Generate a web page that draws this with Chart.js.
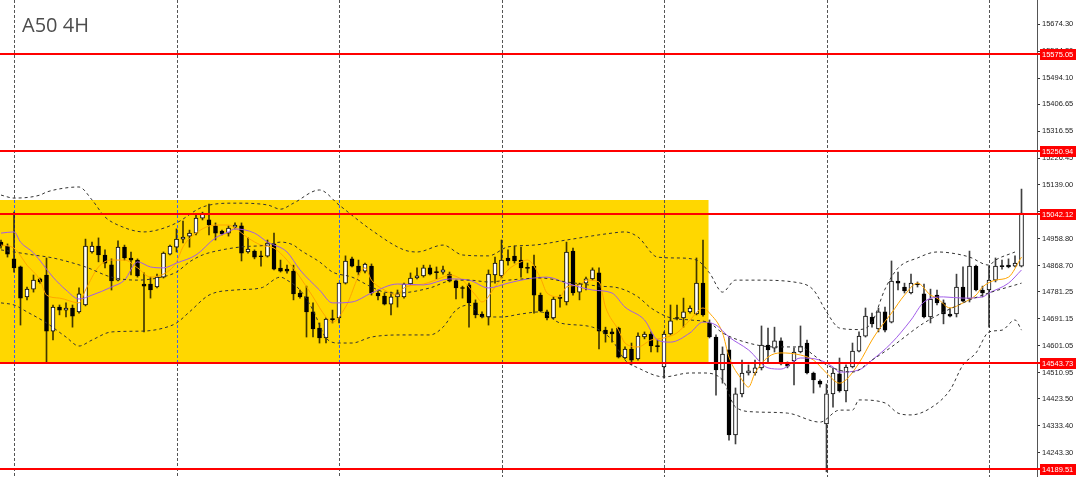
<!DOCTYPE html>
<html><head><meta charset="utf-8">
<script src="https://cdn.jsdelivr.net/npm/chart.js@4"></script>
<style>html,body{margin:0;padding:0;background:#fff;overflow:hidden}</style>
</head><body>
<canvas id="c" width="1080" height="477"></canvas>
<script>
// ---- data (bar index 0..157, 4H bars) ----
const opens=[14947,14934,14891,14864,14764,14790,14824,14837,14650,14730,
14720,14727,14714,14737,14914,14934,14904,14871,14820,14930,
14894,14887,14807,14807,14797,14830,14907,14930,14957,14967,
14977,15027,15021,15001,14984,14977,14997,15001,14914,14917,
14900,14900,14941,14860,14857,14850,14777,14764,14714,14660,
14627,14690,14694,14810,14891,14867,14850,14867,14777,14767,
14740,14764,14764,14807,14827,14834,14861,14847,14847,14840,
14817,14794,14804,14744,14707,14697,14837,14834,14894,14900,
14887,14861,14867,14770,14714,14694,14760,14747,14917,14780,
14810,14824,14844,14653,14647,14660,14560,14590,14557,14630,
14640,14600,14530,14640,14694,14694,14714,14707,14810,14677,
14630,14520,14587,14303,14440,14510,14510,14527,14603,14593,
14617,14540,14550,14580,14610,14510,14483,14340,14440,14507,
14450,14530,14583,14633,14697,14657,14714,14680,14817,14797,
14777,14807,14774,14697,14770,14744,14707,14707,14797,14757,
14867,14787,14787,14820,14867,14870,14867,14867];
const highs=[14954,14941,15047,14867,14797,14837,14827,14894,14737,14737,
14744,14737,14794,14957,14947,14961,14921,14891,14951,14937,
14914,14891,14844,14830,14840,14914,14937,14991,15017,14987,
15037,15047,15074,15011,14987,15001,15011,15011,14961,14921,
14917,14954,14977,14887,14870,14870,14787,14800,14744,14677,
14694,14720,14810,14901,14897,14887,14877,14874,14787,14777,
14780,14787,14810,14844,14861,14870,14870,14864,14867,14847,
14820,14800,14810,14754,14714,14854,14897,14954,14921,14934,
14930,14877,14904,14777,14720,14764,14770,14947,14927,14810,
14830,14861,14861,14663,14657,14663,14597,14610,14644,14647,
14647,14620,14647,14737,14737,14760,14734,14894,14954,14687,
14637,14597,14630,14460,14553,14537,14553,14667,14660,14663,
14627,14547,14594,14667,14620,14513,14487,14473,14527,14560,
14537,14610,14647,14727,14710,14727,14730,14884,14847,14810,
14840,14814,14807,14790,14787,14754,14727,14840,14864,14917,
14870,14800,14867,14894,14887,14891,14901,15124];
const lows=[14927,14897,14847,14670,14754,14780,14810,14543,14620,14704,
14697,14663,14710,14734,14910,14881,14861,14787,14817,14887,
14837,14830,14647,14760,14794,14827,14904,14914,14944,14930,
14971,15021,14971,14954,14971,14967,14991,14884,14910,14891,
14867,14897,14854,14847,14843,14754,14760,14630,14630,14610,
14610,14677,14677,14807,14864,14837,14844,14770,14754,14737,
14704,14730,14760,14804,14824,14830,14837,14824,14840,14814,
14757,14760,14663,14694,14694,14670,14810,14827,14870,14877,
14830,14844,14710,14714,14687,14690,14730,14737,14770,14754,
14787,14820,14590,14613,14613,14560,14557,14537,14553,14624,
14580,14580,14493,14637,14687,14663,14710,14704,14700,14627,
14436,14476,14286,14273,14430,14503,14503,14520,14547,14580,
14537,14527,14470,14577,14507,14443,14463,14180,14396,14446,
14413,14527,14580,14630,14663,14647,14647,14677,14787,14777,
14774,14797,14694,14677,14737,14674,14697,14697,14747,14747,
14784,14764,14663,14814,14857,14861,14864,14864];
const closes=[14934,14907,14861,14760,14790,14820,14814,14650,14730,14720,
14727,14700,14774,14934,14934,14904,14877,14817,14930,14894,
14887,14834,14800,14787,14830,14910,14934,14957,14964,14977,
15027,15041,15004,14977,14974,14994,15004,14910,14924,14897,
14898,14944,14857,14850,14850,14774,14764,14714,14657,14627,
14690,14688,14810,14884,14867,14847,14874,14777,14767,14740,
14764,14774,14807,14827,14834,14861,14840,14845,14854,14817,
14794,14792,14744,14704,14697,14840,14877,14887,14884,14884,
14861,14859,14770,14717,14694,14757,14759,14914,14777,14807,
14824,14854,14650,14640,14640,14563,14590,14553,14633,14640,
14600,14598,14640,14684,14692,14714,14727,14810,14704,14630,
14520,14573,14303,14440,14510,14517,14527,14603,14587,14617,
14540,14533,14580,14600,14510,14487,14473,14440,14510,14450,
14530,14583,14633,14700,14674,14714,14653,14817,14810,14784,
14810,14805,14697,14757,14744,14707,14700,14797,14750,14867,
14787,14777,14820,14867,14865,14864,14877,15044];

// Bollinger bands and moving averages, read at [bar index, price]
const bbUpper=[[0,15104],[2,15094],[6,15104],[7,15114],[10,15128],[12,15131],[14,15088],[16,15031],[18,15004],[22,14981],[24,14987],[27,15011],[31,15064],[36,15077],[41,15071],[43,15057],[45,15077],[49,15121],[52,15071],[57,14987],[62,14921],[64,14914],[68,14937],[71,14904],[75,14901],[78,14931],[82,14937],[87,14954],[94,14977],[96,14981],[98,14964],[101,14897],[104,14894],[107,14887],[109,14844],[111,14780],[113,14820],[116,14820],[123,14810],[125,14787],[127,14714],[129,14660],[132,14655],[134,14680],[136,14790],[138,14860],[141,14894],[144,14914],[146,14911],[149,14897],[152,14870],[153,14887],[156,14914]];
const bbMiddle=[[0,14921],[2,14914],[5,14904],[8,14894],[13,14864],[17,14830],[21,14820],[24,14827],[27,14847],[29,14881],[31,14904],[34,14921],[37,14931],[41,14937],[43,14947],[45,14937],[46,14921],[49,14881],[51,14847],[54,14830],[57,14797],[59,14780],[61,14777],[66,14794],[69,14817],[72,14820],[75,14814],[78,14820],[83,14827],[87,14814],[92,14800],[95,14794],[98,14764],[100,14727],[103,14694],[106,14687],[109,14677],[111,14644],[115,14610],[119,14597],[123,14597],[125,14570],[127,14537],[131,14513],[134,14553],[137,14597],[142,14677],[148,14744],[151,14770],[157,14810]];
const bbLower=[[0,14744],[2,14737],[4,14714],[7,14677],[10,14630],[12,14600],[14,14620],[17,14647],[22,14650],[25,14660],[27,14677],[29,14714],[32,14770],[36,14787],[40,14794],[43,14830],[44,14820],[46,14787],[48,14720],[50,14627],[52,14610],[54,14610],[57,14630],[62,14637],[66,14637],[68,14663],[70,14720],[72,14737],[74,14697],[77,14697],[80,14707],[83,14714],[86,14677],[91,14663],[94,14620],[96,14553],[98,14527],[102,14497],[106,14510],[108,14510],[111,14487],[113,14396],[116,14380],[121,14376],[126,14346],[129,14386],[131,14386],[132,14420],[136,14410],[138,14376],[140,14370],[143,14393],[146,14453],[148,14537],[150,14577],[152,14647],[154,14653],[156,14687],[157,14653]];
const maSlow=[[0,14977],[2,14981],[3,14947],[5,14911],[8,14830],[10,14787],[12,14757],[14,14770],[17,14797],[19,14820],[21,14881],[23,14864],[25,14861],[27,14877],[30,14904],[33,14961],[35,14981],[36,14991],[39,14977],[41,14947],[44,14914],[46,14854],[49,14787],[51,14744],[54,14747],[57,14777],[61,14807],[65,14804],[69,14824],[72,14820],[75,14794],[78,14810],[81,14824],[84,14830],[87,14810],[91,14787],[94,14777],[96,14730],[99,14687],[101,14620],[103,14613],[106,14644],[108,14680],[110,14670],[112,14630],[115,14587],[118,14527],[120,14523],[123,14560],[126,14553],[128,14530],[129,14513],[132,14520],[134,14553],[137,14610],[140,14687],[142,14747],[145,14764],[148,14760],[151,14764],[152,14777],[155,14810],[157,14854]];
const maFast=[[0,14937],[2,14927],[4,14870],[6,14820],[7,14770],[9,14760],[12,14744],[13,14787],[15,14864],[17,14887],[19,14887],[21,14861],[23,14830],[26,14854],[27,14881],[28,14931],[30,14977],[33,15004],[35,15004],[36,14994],[38,14961],[40,14937],[42,14927],[44,14887],[46,14830],[48,14764],[50,14697],[51,14680],[53,14730],[56,14861],[57,14820],[59,14787],[61,14770],[62,14794],[65,14807],[68,14830],[69,14837],[71,14820],[73,14770],[74,14747],[76,14797],[78,14854],[80,14881],[81,14887],[83,14827],[84,14777],[86,14764],[87,14797],[89,14804],[90,14820],[92,14814],[93,14730],[95,14653],[96,14610],[98,14597],[100,14620],[102,14627],[104,14644],[106,14687],[108,14727],[109,14710],[111,14644],[112,14563],[114,14487],[115,14463],[116,14510],[118,14563],[120,14577],[123,14570],[125,14553],[127,14510],[129,14476],[130,14487],[132,14543],[134,14620],[135,14653],[137,14710],[139,14770],[141,14810],[143,14770],[144,14760],[146,14727],[148,14744],[150,14770],[151,14797],[153,14820],[155,14830],[157,14897]];

const yTicks=[14243.30,14333.40,14423.50,14510.95,14601.05,14691.15,14781.25,14868.70,14958.80,15048.90,15139.00,15226.45,15316.55,15406.65,15494.10,15584.20,15674.30,15764.40];
const levels=[15575.05,15250.94,15042.12,14543.73,14189.51];
const silverLevels=[15045.6];
const zoneTop=15089, zoneBottom=14543.73, zoneEndBar=108.85;
const gridBars=[2,27,52,77,102,127,152];
const title='A50 4H';

const PX_PER_BAR=6.5, PLOT_W=1037;
const xMin=-1/PX_PER_BAR, xMax=xMin+PLOT_W/PX_PER_BAR;

const pts=(arr)=>arr.map(([i,v])=>({x:i,y:v}));

const overlay={
  id:'mt4',
  beforeDatasetsDraw(chart){
    const {ctx,chartArea:a,scales:{x,y}}=chart;
    ctx.save();
    const zx=x.getPixelForValue(zoneEndBar);
    const zt=Math.round(y.getPixelForValue(zoneTop)), zb=Math.round(y.getPixelForValue(zoneBottom));
    ctx.fillStyle='#FFD700';
    ctx.fillRect(a.left,zt,zx-a.left,zb-zt);
    ctx.lineWidth=1; ctx.setLineDash([3,2]);
    gridBars.forEach((b,k)=>{
      const px=Math.round(x.getPixelForValue(b))+0.5;
      const seg=(c,y0,y1)=>{ctx.strokeStyle=c;ctx.beginPath();ctx.moveTo(px,y0);ctx.lineTo(px,y1);ctx.stroke();};
      if(k<3 && px<zx){ seg('#555',a.top,zt); seg('#3d63e8',zt,zb); seg('#555',zb,a.bottom); }
      else seg('#555',a.top,a.bottom);
    });
    ctx.restore();
  },
  afterDatasetsDraw(chart){
    const {ctx,chartArea:a,scales:{y}}=chart;
    ctx.save();
    silverLevels.forEach(v=>{const py=Math.round(y.getPixelForValue(v));ctx.fillStyle='#b8b8b8';ctx.fillRect(a.left,py,a.right-a.left,1);});
    levels.forEach(v=>{const py=Math.round(y.getPixelForValue(v));ctx.fillStyle='#ff0000';ctx.fillRect(a.left,py-1,a.right-a.left+3,2);});
    ctx.restore();
  },
  afterDraw(chart){
    const {ctx,scales:{y}}=chart;
    ctx.save();
    ctx.font='7.5px "Liberation Sans", Arial, sans-serif';
    ctx.textBaseline='middle';
    levels.forEach(v=>{
      const py=Math.round(y.getPixelForValue(v));
      ctx.fillStyle='#ff0000'; ctx.fillRect(1040,py-5,36,11);
      ctx.fillStyle='#ffffff'; ctx.fillText(v.toFixed(2),1042,py+0.5);
    });
    ctx.font='20px "Open Sans", sans-serif';
    ctx.textBaseline='alphabetic';
    ctx.fillStyle='#4d4d4d';
    ctx.fillText(title,22,32);
    ctx.restore();
  }
};

new Chart(document.getElementById('c'),{
  type:'bar',
  data:{datasets:[
    {type:'line',data:pts(bbUpper),borderColor:'#333',borderWidth:1,borderDash:[3,3],pointRadius:0,cubicInterpolationMode:'monotone',order:0},
    {type:'line',data:pts(bbMiddle),borderColor:'#333',borderWidth:1,borderDash:[3,3],pointRadius:0,cubicInterpolationMode:'monotone',order:0},
    {type:'line',data:pts(bbLower),borderColor:'#333',borderWidth:1,borderDash:[3,3],pointRadius:0,cubicInterpolationMode:'monotone',order:0},
    {type:'line',data:pts(maSlow),borderColor:'#a05ce8',borderWidth:1,pointRadius:0,cubicInterpolationMode:'monotone',order:0},
    {type:'line',data:pts(maFast),borderColor:'#ffa500',borderWidth:1,pointRadius:0,cubicInterpolationMode:'monotone',order:0},
    {type:'bar',data:opens.map((o,i)=>({x:i,y:[o,closes[i]]})),backgroundColor:opens.map((o,i)=>closes[i]>o?'#ffffff':'#000000'),borderColor:'#000',borderWidth:1,borderSkipped:false,barThickness:4,minBarLength:1,grouped:false,order:1},
    {type:'bar',data:highs.map((h,i)=>({x:i,y:[lows[i],h]})),backgroundColor:'rgba(0,0,0,0.75)',barThickness:1,grouped:false,order:2}
  ]},
  options:{
    responsive:false,animation:false,devicePixelRatio:1,
    layout:{padding:0},
    plugins:{legend:{display:false},tooltip:{enabled:false},title:{display:false}},
    scales:{
      x:{type:'linear',display:false,min:xMin,max:xMax,offset:false},
      y:{type:'linear',position:'right',min:14162.7,max:15755.3,beginAtZero:false,
        afterFit(s){s.width=43;s.paddingTop=0;s.paddingBottom=0;},
        afterBuildTicks(s){s.ticks=yTicks.map(v=>({value:v}));},
        ticks:{font:{family:'"Liberation Sans", Arial, sans-serif',size:7.5},color:'#222',padding:2,autoSkip:false,maxRotation:0,callback:v=>Number(v).toFixed(2)},
        grid:{drawOnChartArea:false,drawTicks:true,tickLength:3,color:'#333'},
        border:{display:true,color:'#555'}
      }
    }
  },
  plugins:[overlay]
});
</script>
</body></html>
